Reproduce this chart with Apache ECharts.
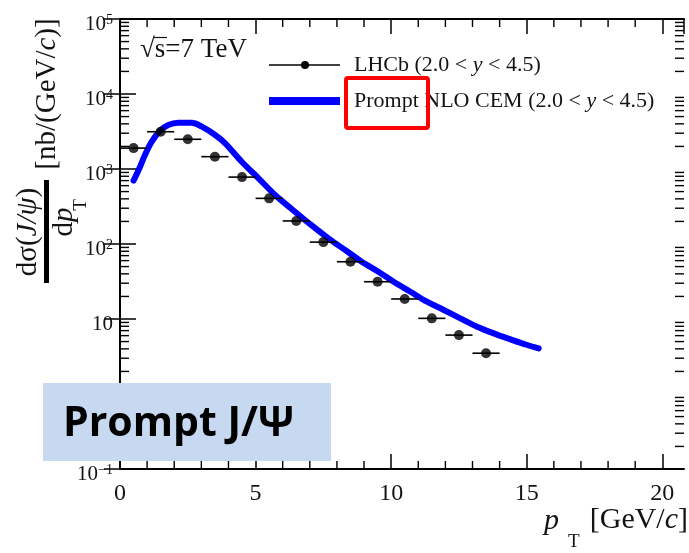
<!DOCTYPE html>
<html>
<head>
<meta charset="utf-8">
<script src="https://cdn.jsdelivr.net/npm/echarts@6/dist/echarts.min.js"></script>
<style>
  html, body { margin: 0; padding: 0; background: #ffffff; }
  #chart { width: 689px; height: 553px; }
</style>
</head>
<body>
<div id="chart"></div>
<script>
// LHCb prompt J/psi cross-section, bin centres (GeV/c) and values (nb/(GeV/c))
const ptBins = [0.5, 1.5, 2.5, 3.5, 4.5, 5.5, 6.5, 7.5, 8.5, 9.5, 10.5, 11.5, 12.5, 13.5];
const lhcbXsec = [1900, 3140, 2490, 1460, 780, 406, 203, 106, 58, 31.4, 18.5, 10.2, 6.1, 3.5];
const binHalfWidth = 0.5;

// NLO CEM prediction
const cemPt = [0.5, 0.74, 0.92, 1.17, 1.48, 1.78, 2.15, 2.65, 3.02, 3.51, 3.88, 4.49, 5.11, 5.72,
               6.3, 7.0, 7.7, 8.37, 8.86, 9.6, 10.09, 10.71, 11.32, 11.94, 12.55, 13.17, 13.78,
               14.4, 15.02, 15.44];
const cemXsec = [700, 1074, 1537, 2312, 3243, 3864, 4140, 4140, 3664, 2840, 2198, 1250, 752, 450,
                 300, 185, 118, 80, 60, 41, 31.4, 23.1, 17.0, 13.2, 10.2, 7.9, 6.44,
                 5.36, 4.5, 4.06];

// axis ranges and tick labels
const xMin = 0, xMax = 20.8, xMajor = 5;
const yMin = 0.1, yMax = 1e5;
const xTickLabels = ['0', '5', '10', '15', '20'];
const yExponents = [-1, 0, 1, 2, 3, 4, 5];

const SERIF = '"Liberation Serif", "Times New Roman", serif';
const INK = '#141414';

// minor tick list: [x, y, kind] with kind 0 = y-axis minor, 1 = x-axis minor
const minorTicks = [];
for (let e = -1; e < 5; e++) {
  for (let m = 2; m <= 9; m++) minorTicks.push([xMin, m * Math.pow(10, e), 0]);
}
for (let v = 1; v <= 20; v++) {
  if (v % xMajor !== 0) minorTicks.push([v, yMin, 1]);
}

const supDigits = { '-': '\u2212' };
function yLabel(v) {
  const e = Math.round(Math.log10(v));
  if (e === 0) return '{b|1}';
  if (e === 1) return '{b|10}';
  const s = String(e).split('').map(c => supDigits[c] || c).join('');
  return '{b|10}{s|' + s + '}';
}

function richSerif(size) {
  return {
    n: { fontFamily: SERIF, fontSize: size, fill: INK, color: INK },
    i: { fontFamily: SERIF, fontSize: size, fontStyle: 'italic', fill: INK, color: INK }
  };
}

const chart = echarts.init(document.getElementById('chart'), null, { renderer: 'canvas' });

const axisLineStyle = { color: '#000', width: 2 };
const xAxisCommon = {
  type: 'value', min: xMin, max: xMax, interval: xMajor,
  axisLine: { show: true, lineStyle: axisLineStyle },
  axisTick: { show: true, inside: true, length: 15, lineStyle: { color: '#000', width: 1.5 } },
  minorTick: { show: false },
  splitLine: { show: false }
};
const yAxisCommon = {
  type: 'log', logBase: 10, min: yMin, max: yMax, splitNumber: 6,
  axisLine: { show: true, lineStyle: axisLineStyle },
  axisTick: { show: true, inside: true, length: 16, lineStyle: { color: '#000', width: 1.5 } },
  minorTick: { show: false },
  splitLine: { show: false }
};

const option = {
  backgroundColor: '#ffffff',
  animation: false,
  grid: { left: 120, top: 19, width: 564, height: 450, show: false },
  xAxis: [
    Object.assign({}, xAxisCommon, {
      position: 'bottom',
      axisLabel: {
        show: true, margin: 13, color: INK, fontFamily: SERIF, fontSize: 24,
        showMaxLabel: false,
        formatter: v => {
          const i = Math.round(v / xMajor);
          return (Math.abs(v - i * xMajor) < 1e-6 && xTickLabels[i] !== undefined) ? xTickLabels[i] : '';
        }
      }
    }),
    Object.assign({}, xAxisCommon, { position: 'top', axisLabel: { show: false } })
  ],
  yAxis: [
    Object.assign({}, yAxisCommon, {
      position: 'left',
      axisLabel: {
        show: true, margin: 7, color: INK, padding: [11, 0, 0, 0],
        formatter: v => yExponents.indexOf(Math.round(Math.log10(v))) >= 0 ? yLabel(v) : '',
        rich: {
          b: { fontFamily: SERIF, fontSize: 21, color: INK, lineHeight: 22 },
          s: { fontFamily: SERIF, fontSize: 14, color: INK, verticalAlign: 'top', lineHeight: 14 }
        }
      }
    }),
    Object.assign({}, yAxisCommon, { position: 'right', axisLabel: { show: false } })
  ],
  series: [
    {
      name: 'NLO CEM',
      type: 'line',
      xAxisIndex: 0, yAxisIndex: 0,
      data: cemPt.map((p, i) => [p, cemXsec[i]]),
      smooth: 0.35,
      showSymbol: false,
      lineStyle: { color: '#0000ff', width: 6, cap: 'round', join: 'round' },
      z: 2
    },
    {
      name: 'LHCb bins',
      type: 'custom',
      xAxisIndex: 0, yAxisIndex: 0,
      data: ptBins.map((p, i) => [p, lhcbXsec[i]]),
      clip: false,
      renderItem: (params, api) => {
        const x = api.value(0), y = api.value(1);
        const a = api.coord([x - binHalfWidth, y]);
        const b = api.coord([x + binHalfWidth, y]);
        return {
          type: 'line',
          shape: { x1: a[0], y1: a[1], x2: b[0], y2: b[1] },
          style: { stroke: '#000', lineWidth: 1.6 }
        };
      },
      z: 3
    },
    {
      name: 'LHCb',
      type: 'scatter',
      xAxisIndex: 0, yAxisIndex: 0,
      data: ptBins.map((p, i) => [p, lhcbXsec[i]]),
      symbol: 'circle',
      symbolSize: 10,
      itemStyle: { color: '#000' },
      z: 4
    },
    {
      name: 'minor ticks',
      type: 'custom',
      xAxisIndex: 0, yAxisIndex: 0,
      data: minorTicks,
      clip: false,
      silent: true,
      renderItem: (params, api) => {
        const kind = api.value(2);
        if (kind === 0) {
          const v = api.value(1);
          const l = api.coord([xMin, v]);
          const r = api.coord([xMax, v]);
          return {
            type: 'group',
            children: [
              { type: 'line', shape: { x1: l[0], y1: l[1], x2: l[0] + 9, y2: l[1] }, style: { stroke: '#000', lineWidth: 1.4 } },
              { type: 'line', shape: { x1: r[0], y1: r[1], x2: r[0] - 9, y2: r[1] }, style: { stroke: '#000', lineWidth: 1.4 } }
            ]
          };
        }
        const v = api.value(0);
        const b = api.coord([v, yMin]);
        const t = api.coord([v, yMax]);
        return {
          type: 'group',
          children: [
            { type: 'line', shape: { x1: b[0], y1: b[1], x2: b[0], y2: b[1] - 8 }, style: { stroke: '#000', lineWidth: 1.4 } },
            { type: 'line', shape: { x1: t[0], y1: t[1], x2: t[0], y2: t[1] + 8 }, style: { stroke: '#000', lineWidth: 1.4 } }
          ]
        };
      },
      z: 5
    }
  ],
  graphic: [
    // centre-of-mass energy
    { type: 'text', x: 140, y: 50, z: 50,
      style: { text: '\u221As=7 TeV', font: '27px ' + SERIF, fill: INK, align: 'left', verticalAlign: 'middle' } },
    { type: 'line', z: 50, shape: { x1: 154, y1: 37.5, x2: 167, y2: 37.5 }, style: { stroke: INK, lineWidth: 1.2 } },

    // legend
    { type: 'line', z: 50, shape: { x1: 269, y1: 65, x2: 340, y2: 65 }, style: { stroke: '#000', lineWidth: 1.6 } },
    { type: 'circle', z: 50, shape: { cx: 305, cy: 65, r: 4 }, style: { fill: '#000' } },
    { type: 'text', x: 354, y: 65, z: 50,
      style: {
        text: '{n|LHCb (2.0 < }{i|y}{n| < 4.5)}', align: 'left', verticalAlign: 'middle',
        rich: richSerif(22)
      } },
    { type: 'line', z: 50, shape: { x1: 269, y1: 101, x2: 340, y2: 101 }, style: { stroke: '#0000ff', lineWidth: 8 } },
    { type: 'text', x: 354, y: 101, z: 50,
      style: {
        text: '{n|Prompt NLO CEM (2.0 < }{i|y}{n| < 4.5)}', align: 'left', verticalAlign: 'middle',
        rich: richSerif(22)
      } },
    { type: 'rect', z: 60, shape: { x: 346, y: 78, width: 82, height: 50, r: 2 },
      style: { fill: 'none', stroke: '#ff0000', lineWidth: 4 } },

    // y-axis title: d sigma(J/psi) / d pT [nb/(GeV/c)]
    { type: 'text', x: 28, y: 232, rotation: Math.PI / 2, z: 50,
      style: {
        text: '{n|d\u03C3(}{i|J/\u03C8}{n|)}', align: 'center', verticalAlign: 'middle',
        rich: richSerif(29)
      } },
    { type: 'rect', z: 50, shape: { x: 44, y: 180, width: 5, height: 103 }, style: { fill: '#000' } },
    { type: 'text', x: 64, y: 222, rotation: Math.PI / 2, z: 50,
      style: {
        text: '{n|d}{i|p}', align: 'center', verticalAlign: 'middle',
        rich: richSerif(29)
      } },
    { type: 'text', x: 81, y: 205, rotation: Math.PI / 2, z: 50,
      style: { text: 'T', font: '19px ' + SERIF, fill: INK, align: 'center', verticalAlign: 'middle' } },
    { type: 'text', x: 47, y: 94, rotation: Math.PI / 2, z: 50,
      style: {
        text: '{n|[nb/(GeV/}{i|c}{n|)]}', align: 'center', verticalAlign: 'middle',
        rich: richSerif(29)
      } },

    // x-axis title: pT [GeV/c]
    { type: 'text', x: 544, y: 521, z: 50,
      style: { text: 'p', font: 'italic 30px ' + SERIF, fill: INK, align: 'left', verticalAlign: 'middle' } },
    { type: 'text', x: 568, y: 542, z: 50,
      style: { text: 'T', font: '19px ' + SERIF, fill: INK, align: 'left', verticalAlign: 'middle' } },
    { type: 'text', x: 688, y: 520, z: 50,
      style: {
        text: '{n|[GeV/}{i|c}{n|]}', align: 'right', verticalAlign: 'middle',
        rich: richSerif(30)
      } },

    // caption box
    { type: 'rect', z: 100, shape: { x: 43, y: 383, width: 288, height: 78 }, style: { fill: '#c6d9f0' } },
    { type: 'text', x: 63, y: 424, z: 101,
      style: { text: 'Prompt J/\u03A8', font: 'bold 41px "Open Sans", "Liberation Sans", sans-serif', fill: '#000', align: 'left', verticalAlign: 'middle' } }
  ]
};

chart.setOption(option);
</script>
</body>
</html>
